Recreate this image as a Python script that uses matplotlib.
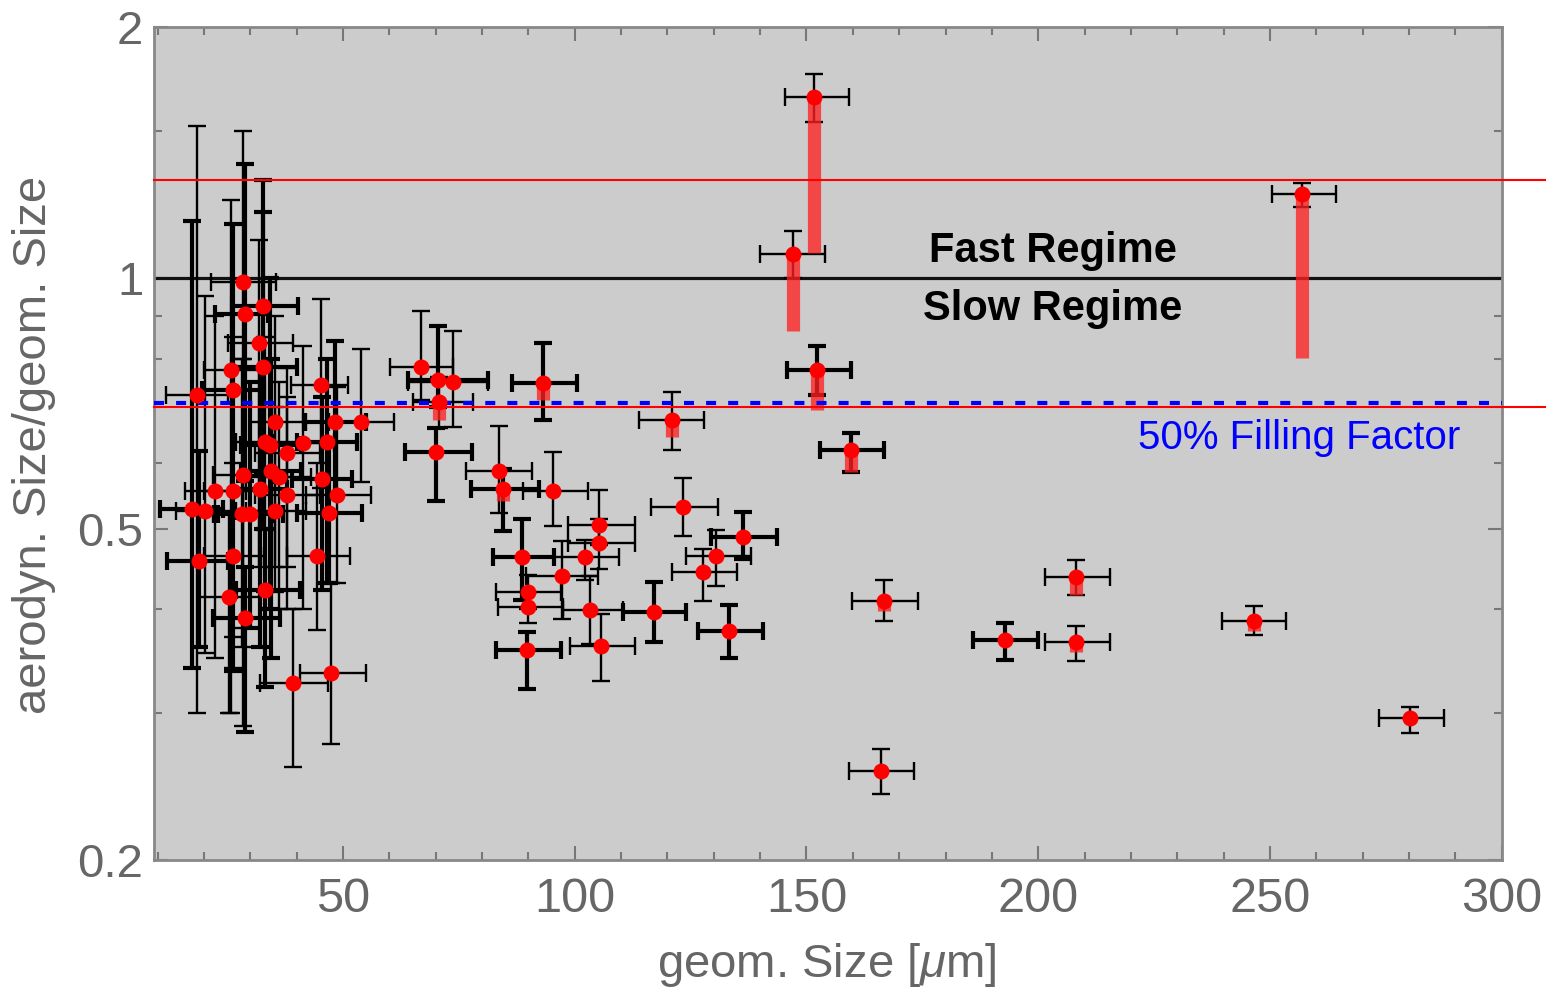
"""Aerodynamic vs. geometric size of aggregates (fast / slow regime)."""

import numpy as np

import matplotlib
matplotlib.use("Agg")
import matplotlib.pyplot as plt

# ---- data: geom. size [um], size ratio, error-bar ends -------------------
# series measured with the thick error bars
thick_x = [152.2, 159.5, 93.1, 136.2, 133.2, 117.2, 88.6, 89.7, 70.0, 70.5,
           192.9, 84.5,
           32.8, 28.8, 32.8, 26.3, 48.2, 34.2, 46.6, 34.4, 45.5, 32.0,
           17.5, 29.9, 47.0, 18.9, 33.1, 28.8]
thick_y = [0.774, 0.622, 0.747, 0.488, 0.377, 0.397, 0.462, 0.357, 0.618, 0.753,
           0.367, 0.557,
           0.926, 0.905, 0.781, 0.734, 0.672, 0.630, 0.636, 0.587, 0.573, 0.557,
           0.528, 0.520, 0.522, 0.457, 0.422, 0.390]
thick_xlo = [145.7, 153.0, 86.4, 129.4, 126.5, 110.3, 82.3, 83.0, 63.4, 64.0,
             186.0, 77.6,
             26.0, 22.4, 26.0, 19.5, 41.5, 28.0, 40.0, 28.0, 39.0, 26.0,
             10.5, 23.0, 40.0, 12.0, 27.0, 22.0]
thick_xhi = [159.5, 166.8, 100.4, 143.6, 140.7, 124.1, 95.6, 97.0, 77.8, 81.3,
             200.0, 92.2,
             40.3, 33.8, 40.0, 33.0, 55.0, 41.0, 53.0, 41.0, 52.0, 38.0,
             24.0, 37.0, 54.0, 25.2, 40.7, 36.4]
thick_ylo = [0.723, 0.585, 0.675, 0.459, 0.350, 0.365, 0.410, 0.321, 0.539, 0.700,
             0.348, 0.496,
             0.58, 0.57, 0.50, 0.337, 0.55, 0.40, 0.43, 0.35, 0.422, 0.36,
             0.34, 0.38, 0.43, 0.36, 0.323, 0.285]
thick_yhi = [0.829, 0.651, 0.834, 0.523, 0.405, 0.431, 0.514, 0.376, 0.660, 0.874,
             0.385, 0.590,
             1.20, 1.37, 1.31, 1.16, 0.839, 1.00, 0.80, 0.80, 0.72, 0.78,
             1.17, 0.75, 0.63, 0.62, 0.50, 0.45]

# series measured with the thin error bars
thin_x = [151.7, 147.0, 256.9, 120.9, 123.3, 130.4, 127.6, 105.6, 103.2, 105.2,
          105.2, 102.2, 97.2, 95.3, 89.9, 89.9, 83.6, 70.7, 73.7, 66.8,
          166.8, 166.0, 208.2, 208.2, 246.6, 280.2,
          28.4, 31.8, 25.8, 18.5, 45.2, 35.3, 53.8, 33.1, 41.4, 37.8,
          28.4, 36.1, 22.4, 26.3, 37.8, 48.6, 20.3, 28.3, 35.3, 26.3,
          44.4, 25.4, 39.2, 47.3]
thin_y = [1.65, 1.068, 1.26, 0.675, 0.530, 0.463, 0.443, 0.361, 0.399, 0.505,
          0.481, 0.462, 0.438, 0.555, 0.419, 0.402, 0.586, 0.709, 0.749, 0.781,
          0.409, 0.256, 0.437, 0.365, 0.387, 0.296,
          0.989, 0.835, 0.776, 0.724, 0.743, 0.672, 0.672, 0.636, 0.633, 0.616,
          0.580, 0.577, 0.554, 0.554, 0.549, 0.549, 0.525, 0.520, 0.525, 0.463,
          0.463, 0.414, 0.326, 0.335]
thin_xlo = [145.3, 139.9, 250.4, 113.9, 116.4, 124.0, 121.0, 98.9, 97.4, 98.5,
            98.5, 95.6, 89.4, 88.8, 83.0, 83.4, 76.5, 65.0, 64.0, 60.1,
            159.9, 159.1, 201.5, 201.5, 239.7, 273.5,
            21.6, 25.2, 20.0, 11.9, 38.8, 30.0, 47.0, 27.0, 35.0, 31.0,
            22.0, 30.0, 16.0, 20.0, 31.0, 42.0, 14.0, 22.0, 29.0, 20.0,
            38.0, 18.8, 32.0, 40.7]
thin_xhi = [159.1, 154.1, 264.2, 127.9, 130.8, 138.0, 135.0, 112.9, 110.3, 112.9,
            112.9, 109.6, 105.0, 102.9, 97.0, 97.4, 90.7, 78.0, 81.3, 73.7,
            174.1, 173.3, 215.5, 215.5, 253.4, 287.5,
            35.5, 39.2, 33.0, 25.2, 51.1, 42.0, 61.0, 40.0, 48.0, 45.0,
            35.0, 43.0, 29.0, 33.0, 45.0, 56.0, 27.0, 35.0, 42.0, 33.0,
            51.4, 32.0, 46.8, 54.9]
thin_ylo = [1.54, 1.00, 1.216, 0.622, 0.490, 0.427, 0.409, 0.328, 0.363, 0.478,
            0.447, 0.434, 0.389, 0.503, 0.400, 0.385, 0.522, 0.660, 0.662, 0.713,
            0.387, 0.240, 0.416, 0.347, 0.373, 0.284,
            0.29, 0.45, 0.30, 0.30, 0.56, 0.45, 0.568, 0.42, 0.40, 0.45,
            0.38, 0.40, 0.35, 0.37, 0.40, 0.43, 0.354, 0.36, 0.42, 0.34,
            0.378, 0.30, 0.259, 0.276]
thin_yhi = [1.757, 1.138, 1.30, 0.729, 0.575, 0.498, 0.472, 0.395, 0.438, 0.556,
            0.513, 0.484, 0.483, 0.617, 0.440, 0.420, 0.664, 0.760, 0.864, 0.913,
            0.434, 0.272, 0.458, 0.382, 0.404, 0.3055,
            1.50, 1.11, 1.24, 1.52, 0.943, 0.90, 0.822, 0.85, 0.829, 0.78,
            0.80, 0.75, 0.90, 0.85, 0.72, 0.74, 0.95, 0.80, 0.70, 0.60,
            0.60, 0.52, 0.40, 0.43]

# shift of the size ratio for the particles where it is visible
shift_x = [151.7, 147.0, 256.9, 152.2, 159.5, 120.9, 93.1, 70.7, 84.5,
           166.8, 208.2, 246.6, 208.2]
shift_from = [1.65, 1.068, 1.26, 0.774, 0.622, 0.675, 0.747, 0.709, 0.557,
              0.409, 0.437, 0.387, 0.365]
shift_to = [1.07, 0.864, 0.802, 0.694, 0.585, 0.644, 0.713, 0.675, 0.540,
            0.398, 0.416, 0.377, 0.355]

regime_limit = 1.0
red_limits = [1.31, 0.70]
filling_50 = np.sqrt(0.5)

x_ticks = [50, 100, 150, 200, 250, 300]
y_ticks = [0.2, 0.5, 1, 2]
y_tick_labels = ["0.2", "0.5", "1", "2"]
y_minor = [0.3, 0.4, 0.6, 0.7, 0.8, 0.9, 1.5]

SANS = ["Liberation Sans", "DejaVu Sans"]
plt.rcParams["mathtext.fontset"] = "custom"
plt.rcParams["mathtext.it"] = "Liberation Sans:italic"
plt.rcParams["mathtext.rm"] = "Liberation Sans"


def errbars(ax, x, y, xlo, xhi, ylo, yhi, lw):
    x, y = np.asarray(x), np.asarray(y)
    xerr = [x - np.asarray(xlo), np.asarray(xhi) - x]
    yerr = [y - np.asarray(ylo), np.asarray(yhi) - y]
    ax.errorbar(x, y, xerr=xerr, yerr=yerr, fmt="none", ecolor="black",
                elinewidth=lw, capsize=6.5, capthick=lw, zorder=3)


fig = plt.figure(figsize=(15.46, 9.93), dpi=100)
ax = fig.add_axes([0.0999, 0.1339, 0.8714, 0.8389])
ax.set_facecolor("#cccccc")
ax.set_yscale("log")
ax.set_xlim(9.3, 300)
ax.set_ylim(0.2, 2)

ax.axhline(regime_limit, color="#111111", lw=2.3, zorder=2)

errbars(ax, thin_x, thin_y, thin_xlo, thin_xhi, thin_ylo, thin_yhi, 1.7)
errbars(ax, thick_x, thick_y, thick_xlo, thick_xhi, thick_ylo, thick_yhi, 3.0)

ax.vlines(shift_x, shift_to, shift_from, color="#ff2020", lw=9.5,
          alpha=0.78, zorder=4)

ax.axhline(filling_50, color="#0000ff", lw=3, dashes=(2.4, 2.9), zorder=5)
for yl in red_limits:
    ax.plot([0, 1.05], [yl, yl], color="#ff0000", lw=1.5, zorder=5,
            transform=ax.get_yaxis_transform(), clip_on=False)

ax.plot(thin_x + thick_x, thin_y + thick_y, "o", color="#ff0000",
        ms=11.5, mec="none", zorder=6)

ax.text(203.2, 1.077, "Fast Regime", ha="center", va="center",
        fontsize=30, fontweight="bold", family=SANS, zorder=7)
ax.text(203.2, 0.918, "Slow Regime", ha="center", va="center",
        fontsize=30, fontweight="bold", family=SANS, zorder=7)
ax.text(256.3, 0.642, "50% Filling Factor", ha="center", va="center",
        fontsize=29, color="#0000ff", family=SANS, zorder=7)

# ticks, frame
ax.set_xticks(x_ticks)
ax.set_xticks([v for v in range(10, 300, 10) if v % 50], minor=True)
ax.set_yticks(y_ticks)
ax.set_yticklabels(y_tick_labels)
ax.set_yticks(y_minor, minor=True)
ax.yaxis.set_minor_formatter(plt.NullFormatter())
ax.tick_params(which="both", direction="in", top=True, right=True,
               color="#777777", width=1.5, labelcolor="#666666")
ax.tick_params(which="major", length=10)
ax.tick_params(which="minor", length=6)
ax.tick_params(axis="x", pad=12)
ax.tick_params(axis="y", pad=8)
for lab in ax.get_xticklabels():
    lab.set_family(SANS)
    lab.set_fontsize(35)
for lab in ax.get_yticklabels():
    lab.set_family(SANS)
    lab.set_fontsize(34)
for sp in ax.spines.values():
    sp.set_color("#888888")
    sp.set_linewidth(2)

fig.text(0.535, 1 - 965 / 993, r"geom. Size [$\mu$m]", ha="center",
         va="center", fontsize=34, color="#666666", family=SANS)
fig.text(0.022, 1 - 445 / 993, "aerodyn. Size/geom. Size", ha="center",
         va="center", rotation=90, fontsize=34, color="#666666", family=SANS)

fig.savefig("out.png", dpi=100)
plt.close(fig)
